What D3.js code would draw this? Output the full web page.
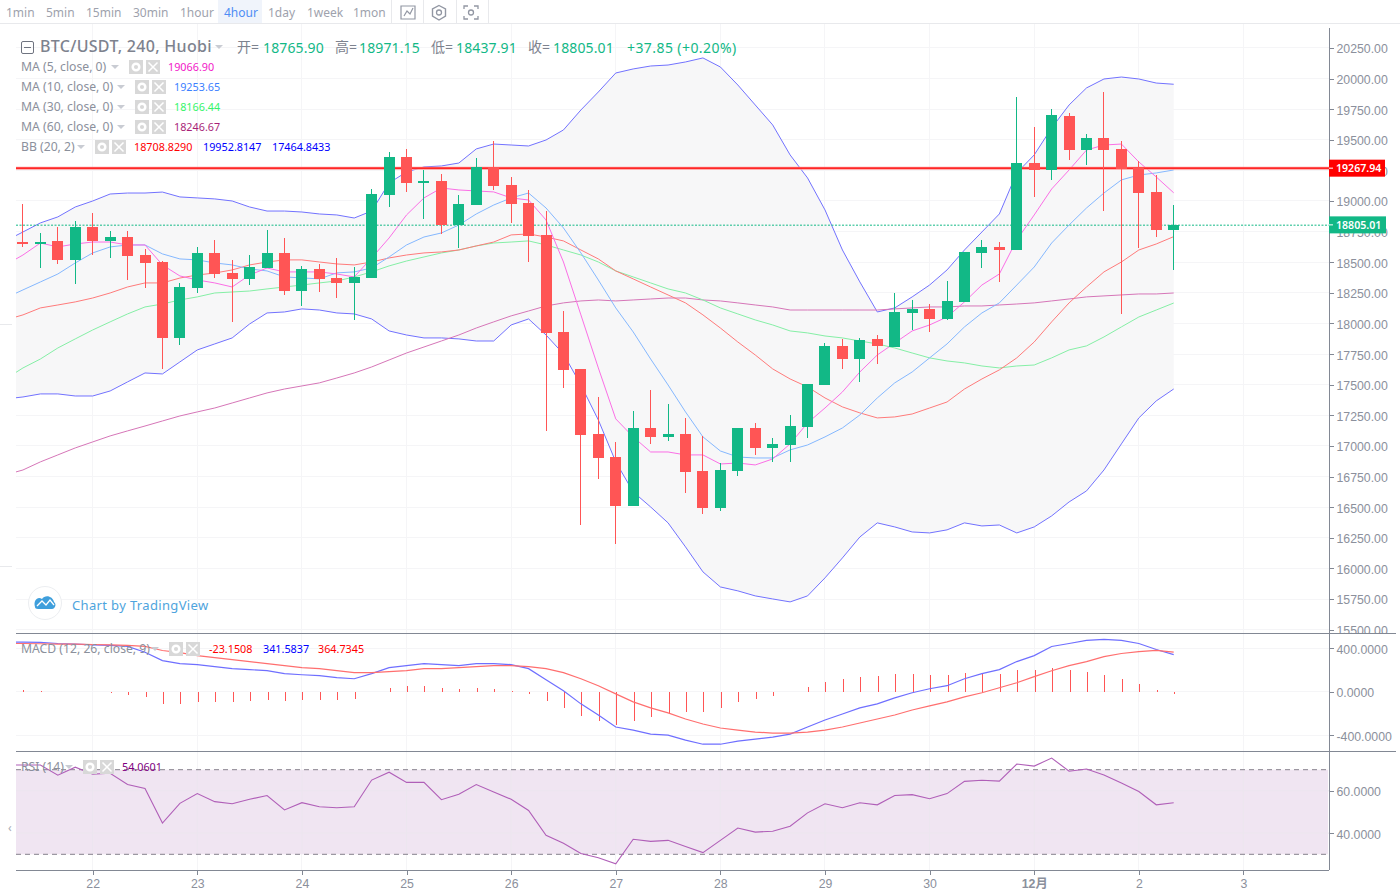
<!DOCTYPE html>
<html><head><meta charset="utf-8">
<style>
html,body{margin:0;padding:0;background:#fff;overflow:hidden}
svg{display:block}
text{font-family:"Noto Sans","Noto Sans CJK SC",sans-serif}
.ax text{font-family:"Liberation Sans",Arial,sans-serif;font-size:12.3px;fill:#8b909c}
.ax path,.ax line{stroke:#828894;shape-rendering:crispEdges}
</style>
<script src="https://cdn.jsdelivr.net/npm/d3@7/dist/d3.min.js"></script>
</head><body><svg id="c" width="1400" height="893"></svg>
<script>
// ---- candles, index 0 = 22nd 00:00, first candle is index -4 ----
const opens=[18665,18649,18674,18518,18788,18674,18706,18559,18502,17882,18290,18576,18412,18363,18453,18576,18265,18445,18371,18331,18371,19049,19359,19147,19163,18804,18967,19278,19131,18984,18722,17931,17629,17098,16910,16510,17147,17073,17098,16796,16494,16796,17147,16984,17008,17155,17498,17816,17710,17873,17808,18086,18118,18037,18176,18576,18625,18600,19310,19253,19694,19416,19514,19425,19269,19073,18765.90];
const highs=[18975,18739,18788,18837,18902,18755,18755,18608,18510,18331,18625,18682,18518,18559,18763,18698,18469,18486,18535,18461,19098,19400,19425,19253,19220,19049,19351,19490,19196,19090,18918,18102,17629,17400,17033,17286,17457,17343,17229,17082,16861,17147,17188,17065,17253,17506,17841,17873,17882,17906,18249,18192,18159,18347,18584,18682,18665,19849,19604,19751,19718,19547,19890,19490,19327,19212,18971.15];
const lows=[18625,18453,18486,18322,18559,18535,18355,18290,17629,17825,18249,18371,18012,18314,18453,18233,18143,18257,18208,18029,18371,18951,19073,18853,18730,18616,18967,19090,18820,18502,17123,17474,16355,16731,16200,16510,17016,17041,16616,16445,16469,16755,16927,16869,16869,17065,17498,17629,17523,17670,17808,17947,17931,18029,18176,18453,18339,18600,19033,19171,19335,19294,18918,18078,18616,18706,18437.91];
const closes=[18649,18665,18518,18788,18674,18706,18551,18494,17882,18298,18576,18404,18363,18461,18576,18265,18445,18363,18331,18380,19057,19359,19147,19163,18804,18975,19278,19122,18975,18714,17923,17620,17090,16902,16510,17147,17073,17098,16788,16494,16804,17147,16984,17016,17163,17506,17816,17710,17865,17816,18094,18118,18037,18184,18584,18625,18600,19310,19253,19702,19416,19514,19416,19261,19065,18763,18805.01];
// ---- overlays, first value is index -5 (cut off by the left edge) ----
const bbUpper=[18674,18747,18821,18870,18951,19000,19057,19065,19065,19073,19033,19025,19017,19000,18951,18918,18918,18910,18894,18886,18861,18918,19147,19237,19278,19286,19310,19425,19465,19457,19449,19498,19580,19743,19890,20045,20078,20102,20110,20135,20168,20094,19947,19784,19621,19376,19188,18927,18600,18339,18094,18127,18217,18314,18437,18600,18747,18894,19229,19376,19596,19784,19923,19996,20012,19996,19963,19953];
const bbLower=[17384,17400,17425,17425,17408,17408,17449,17523,17596,17588,17686,17784,17833,17882,17996,18086,18094,18119,18110,18086,18078,18037,17939,17906,17882,17882,17874,17857,17857,17988,18037,17906,17751,17498,17212,16870,16625,16502,16372,16176,15972,15849,15817,15776,15751,15727,15776,15923,16086,16257,16372,16339,16298,16290,16315,16372,16347,16355,16290,16339,16429,16543,16633,16804,17017,17229,17368,17465];
const bbMid=[18029,18070,18127,18151,18176,18208,18249,18298,18331,18331,18371,18396,18412,18437,18478,18502,18519,18519,18502,18486,18478,18502,18535,18559,18576,18584,18600,18633,18665,18723,18731,18706,18674,18600,18527,18429,18364,18298,18233,18168,18070,17963,17849,17743,17629,17547,17482,17392,17319,17270,17229,17237,17261,17310,17359,17465,17547,17621,17719,17849,18013,18168,18298,18421,18502,18600,18649,18709];
const ma5=[18478,18559,18657,18625,18649,18665,18665,18641,18641,18478,18388,18355,18331,18298,18396,18453,18421,18421,18421,18404,18380,18535,18698,18886,19025,19106,19090,19082,19074,19025,19008,18845,18502,18070,17637,17221,17074,16951,16951,16927,16927,16853,16861,16845,16894,17017,17188,17310,17441,17604,17743,17841,17939,17988,18053,18176,18314,18404,18682,18886,19098,19253,19416,19457,19465,19319,19196,19067];
const ma10=[18208,18274,18339,18404,18494,18576,18625,18641,18641,18568,18527,18519,18494,18478,18445,18429,18380,18372,18364,18413,18421,18453,18543,18641,18706,18739,18804,18894,18967,19025,19065,18943,18780,18576,18355,18127,17931,17710,17498,17278,17074,16959,16910,16902,16902,16968,17008,17074,17147,17253,17392,17515,17604,17719,17833,17972,18086,18168,18314,18461,18657,18804,18943,19065,19172,19212,19229,19253];
const ma30=[17547,17637,17710,17800,17874,17947,18013,18078,18135,18159,18192,18217,18249,18257,18265,18282,18298,18314,18331,18347,18380,18421,18470,18510,18543,18576,18600,18633,18657,18665,18674,18641,18600,18559,18502,18429,18380,18331,18282,18249,18192,18127,18078,18029,17988,17939,17923,17898,17882,17857,17833,17800,17759,17719,17694,17678,17653,17637,17653,17661,17719,17784,17817,17890,17972,18053,18110,18167];
const ma60=[16764,16804,16870,16927,16984,17033,17082,17123,17163,17204,17245,17278,17310,17351,17392,17433,17465,17490,17515,17555,17596,17645,17702,17759,17808,17857,17906,17963,18013,18062,18102,18143,18168,18184,18192,18184,18192,18200,18208,18208,18192,18184,18168,18151,18135,18110,18110,18110,18110,18110,18110,18119,18127,18135,18135,18143,18143,18151,18159,18168,18184,18200,18217,18225,18233,18241,18241,18249];
// ---- MACD pane ----
const macdHist=[19,9,0,0,-5,-14,-32,-51,-111,-111,-93,-93,-93,-83,-74,-83,-74,-74,-74,-65,-5,32,51,51,32,23,32,23,5,-23,-88,-153,-218,-264,-301,-264,-236,-208,-190,-190,-153,-97,-69,-42,0,42,88,116,134,144,162,162,153,153,171,171,162,199,199,218,199,181,153,116,69,14,-23];
const macdLine=[458,456,454,444,438,432,426,417,364,287,259,250,231,213,204,194,167,157,148,130,120,167,222,241,259,250,241,259,259,250,213,111,9,-111,-213,-324,-352,-389,-398,-444,-482,-482,-454,-435,-417,-389,-324,-259,-204,-148,-111,-56,-9,28,56,120,167,204,278,333,417,444,472,482,472,444,389,342];
const macdSignal=[444,444,442,439,438,435,432,426,417,380,361,333,315,296,278,259,241,222,213,194,176,176,185,194,213,213,222,231,241,241,231,213,176,120,56,-19,-93,-148,-194,-250,-296,-333,-352,-370,-380,-380,-370,-352,-324,-287,-250,-213,-167,-130,-93,-46,-9,37,83,139,194,241,278,324,352,370,380,365];
// ---- RSI pane ----
const rsiLine=[72.2,72.2,72.2,67.4,71.2,67.9,68.3,63,61.1,44.8,54.1,58.7,54.9,53.9,56,57.8,51,54.4,52.5,52,52.5,65.1,68.8,64,64,55.8,58.4,63,59.5,56,50.7,39,35.2,30.4,28.4,25.5,37.1,36.1,36.6,33.7,30.8,36.6,42.4,40.5,40.9,43.3,49.6,53.9,52,54.4,53.4,57.8,58.2,56.3,58.7,64.5,65,64.6,72.7,71.7,75.5,69.3,70.3,67.5,63.7,59.7,53.4,54.4];
// ---- axes and labels ----
const priceTicks=[20250,20000,19750,19500,19250,19000,18750,18500,18250,18000,17750,17500,17250,17000,16750,16500,16250,16000,15750,15500];
const macdTicks=[400,0,-400];
const rsiTicks=[60,40];
const rsiBands=[70,30];
const dayIdx=[0,6,12,18,24,30,36,42,48,54,60,66];
const dayLabels=["22","23","24","25","26","27","28","29","30","12月","2","3"];
const lastPrice=18805.01, alertPrice=19267.94;
const toolbarLabels=["1min","5min","15min","30min","1hour","4hour","1day","1week","1mon"];

const UP="#12b886",DOWN="#ff5555",GRID="#f5f5f7",AX="#828894",TXT="#8b909c";
const svg=d3.select("#c");
const L=16,R=1329;
const x=d3.scaleLinear().domain([0,62]).range([92.7,1173.7]);
const y=d3.scaleLinear().domain([20000,15500]).range([78.5,629.7]);
const ym=d3.scaleLinear().domain([400,-400]).range([648.3,735.3]);
const yr=d3.scaleLinear().domain([70,30]).range([769.7,854.3]);
const ic=i=>i-4, il=i=>i-5;

const defs=svg.append("defs");
const clip=(id,a,b,c,d)=>defs.append("clipPath").attr("id",id).append("rect").attr("x",a).attr("y",b).attr("width",c).attr("height",d);
clip("cm",L,24,R-L,609);clip("cd",L,634,R-L,117);clip("cr",L,752,R-L,118);clip("cl",R-1,24,71,609);

// toolbar
const tb=svg.append("g");
tb.append("rect").attr("x",218).attr("y",0).attr("width",44).attr("height",23).attr("fill","#f0f4fb");
tb.append("line").attr("x1",0).attr("x2",1400).attr("y1",23.5).attr("y2",23.5).attr("stroke","#e8e9ec");
[6,46,86,133,180,224,268,307,353].forEach((px,k)=>tb.append("text").attr("x",px).attr("y",17).attr("font-size",12).attr("fill",k==5?"#4f8df5":"#9ea2ad").text(toolbarLabels[k]));
[391,423,456,488].forEach(px=>tb.append("line").attr("x1",px+.5).attr("x2",px+.5).attr("y1",0).attr("y2",23).attr("stroke","#e8e9ec"));
tb.append("path").attr("d","M401 6H415V19H401Z M404 16L407 11L410 14L413 8").attr("fill","none").attr("stroke","#9297a3").attr("stroke-width",1.2);
tb.append("path").attr("d","M439 5.5L445.500 9V16L439 20L432.500 16V9Z").attr("fill","none").attr("stroke","#9297a3").attr("stroke-width",1.4);
tb.append("circle").attr("cx",439).attr("cy",12.500).attr("r",2.500).attr("fill","none").attr("stroke","#9297a3").attr("stroke-width",1.3);
tb.append("path").attr("d","M464 9V6H468M474 6H478V9M478 16V19H474M468 19H464V16").attr("fill","none").attr("stroke","#9297a3").attr("stroke-width",1.3);
tb.append("circle").attr("cx",471).attr("cy",12.500).attr("r",2.500).attr("fill","none").attr("stroke","#9297a3").attr("stroke-width",1.3);

// grids
const grid=svg.append("g").attr("stroke",GRID).attr("shape-rendering","crispEdges");
grid.selectAll(".v").data(dayIdx).join("line").attr("x1",d=>x(d)).attr("x2",d=>x(d)).attr("y1",24).attr("y2",870);
grid.selectAll(".h").data(priceTicks).join("line").attr("x1",L).attr("x2",R).attr("y1",d=>y(d)).attr("y2",d=>y(d));
grid.selectAll(".m").data(macdTicks).join("line").attr("x1",L).attr("x2",R).attr("y1",d=>ym(d)).attr("y2",d=>ym(d));

// main pane
const main=svg.append("g").attr("clip-path","url(#cm)");
main.append("path").attr("fill","#f7f7f8").attr("fill-opacity",.95).attr("d",d3.area().x((d,i)=>x(il(i))).y0((d,i)=>y(bbLower[i])).y1(d=>y(d))(bbUpper));
const lineP=d3.line().x((d,i)=>x(il(i))).y(d=>y(d));
[[bbUpper,"#7272ff"],[bbLower,"#7272ff"],[ma60,"#d676b8"],[ma30,"#85efa6"],[bbMid,"#ff7b7b"],[ma10,"#85b8ff"],[ma5,"#fb6fe6"]].forEach(([a,c])=>main.append("path").attr("fill","none").attr("stroke",c).attr("stroke-width",1).attr("d",lineP(a)));
main.append("line").attr("x1",L).attr("x2",R).attr("y1",y(alertPrice)).attr("y2",y(alertPrice)).attr("stroke","#ff9a9a").attr("stroke-width",3);
main.append("line").attr("x1",L).attr("x2",R).attr("y1",y(alertPrice)).attr("y2",y(alertPrice)).attr("stroke","#ff0000").attr("stroke-width",1.4);
main.append("line").attr("x1",L).attr("x2",R).attr("y1",y(lastPrice)+.3).attr("y2",y(lastPrice)+.3).attr("stroke",UP).attr("stroke-dasharray","2 1.5");
const idx=d3.range(opens.length);
const col=i=>closes[i]>=opens[i]?UP:DOWN;
const px0=i=>Math.floor(x(ic(i)));
main.selectAll(".w").data(idx).join("rect").attr("shape-rendering","crispEdges").attr("x",px0).attr("width",1).attr("y",i=>y(highs[i])).attr("height",i=>y(lows[i])-y(highs[i])).attr("fill",col);
main.selectAll(".b").data(idx).join("rect").attr("shape-rendering","crispEdges").attr("x",i=>px0(i)-5).attr("width",11).attr("y",i=>Math.round(y(Math.max(opens[i],closes[i])))).attr("height",i=>Math.max(2,Math.round(Math.abs(y(opens[i])-y(closes[i]))))).attr("fill",col);

// MACD pane
const md=svg.append("g").attr("clip-path","url(#cd)");
md.selectAll(".h").data(macdHist).join("rect").attr("shape-rendering","crispEdges").attr("x",(d,i)=>px0(i)+1).attr("width",1).attr("y",d=>Math.min(ym(d),ym(0))).attr("height",d=>Math.abs(ym(d)-ym(0))).attr("fill",DOWN);
const lineM=d3.line().x((d,i)=>x(il(i))).y(d=>ym(d));
md.append("path").attr("fill","none").attr("stroke","#6f6fff").attr("stroke-width",1.2).attr("d",lineM(macdLine));
md.append("path").attr("fill","none").attr("stroke","#ff6f6f").attr("stroke-width",1.2).attr("d",lineM(macdSignal));

// RSI pane
const rs=svg.append("g").attr("clip-path","url(#cr)");
rs.append("rect").attr("x",L).attr("y",yr(rsiBands[0])).attr("width",R-L-1).attr("height",yr(rsiBands[1])-yr(rsiBands[0])).attr("fill","#f0e5f2");
rs.selectAll(".g").data(rsiTicks).join("line").attr("x1",L).attr("x2",R).attr("y1",d=>yr(d)).attr("y2",d=>yr(d)).attr("stroke","#ece6ef");
rs.selectAll(".v").data(dayIdx).join("line").attr("x1",d=>x(d)).attr("x2",d=>x(d)).attr("y1",770).attr("y2",854).attr("stroke","#ece6ef");
rs.selectAll(".d").data(rsiBands).join("line").attr("x1",L).attr("x2",R).attr("y1",d=>yr(d)).attr("y2",d=>yr(d)).attr("stroke","#85808c").attr("stroke-dasharray","5 4");
rs.append("path").attr("fill","none").attr("stroke","#b05fb8").attr("stroke-width",1.1).attr("d",d3.line().x((d,i)=>x(il(i))).y(d=>yr(d))(rsiLine));

// pane borders
const fr=svg.append("g").attr("stroke",AX).attr("shape-rendering","crispEdges");
[633.5,751.5,870.5].forEach(v=>fr.append("line").attr("x1",L).attr("x2",1396).attr("y1",v).attr("y2",v));
fr.select("line:last-child").attr("x2",R);
fr.append("line").attr("x1",R+.5).attr("x2",R+.5).attr("y1",28).attr("y2",870);

// axes
const nudge=g=>{g.select(".domain").remove();g.selectAll("text").attr("dy","0.4em");};
const a1c=svg.append("g").attr("clip-path","url(#cl)");
a1c.append("g").attr("class","ax").attr("transform",`translate(${R+.5},0)`).call(d3.axisRight(y).tickValues(priceTicks).tickFormat(d3.format(".2f")).tickSize(4).tickPadding(3)).call(nudge);
svg.append("g").attr("class","ax").attr("transform",`translate(${R+.5},0)`).call(d3.axisRight(ym).tickValues(macdTicks).tickFormat(d=>d3.format(".4f")(d).replace("−","-")).tickSize(4).tickPadding(3)).call(nudge);
svg.append("g").attr("class","ax").attr("transform",`translate(${R+.5},0)`).call(d3.axisRight(yr).tickValues(rsiTicks).tickFormat(d3.format(".4f")).tickSize(4).tickPadding(3)).call(nudge);
const xa=svg.append("g").attr("class","ax").attr("transform","translate(0,870.5)").call(d3.axisBottom(x).tickValues(dayIdx).tickFormat((d,i)=>dayLabels[i]).tickSize(4).tickPadding(5)).call(g=>g.select(".domain").remove());
xa.selectAll("text").attr("font-weight",(d,i)=>dayLabels[i]=="12月"?"bold":null).style("font-family",'"Liberation Sans","Noto Sans CJK SC",sans-serif');

// price flags
[[alertPrice,"#ff0000",56],[lastPrice,UP,57]].forEach(([p,c,w])=>{
 const py=y(p),g=svg.append("g");
 g.append("rect").attr("x",R).attr("y",py-8.5).attr("width",w).attr("height",17).attr("fill",c);
 g.append("line").attr("x1",R).attr("x2",R+4).attr("y1",py).attr("y2",py).attr("stroke","#fff");
 g.append("text").attr("x",R+7).attr("y",py+4).attr("font-size",10.6).attr("font-weight",600).attr("fill","#fff").text(d3.format(".2f")(p));
});

// left stubs
svg.append("path").attr("d","M0 324.500H12M0 566.500H12").attr("stroke","#e8e9ec");
svg.append("text").attr("x",8).attr("y",832).attr("font-size",12).attr("fill","#a8acb5").text("‹");

// legends
const T=(xp,yp,s,c,fs=12,w)=>svg.append("text").attr("x",xp).attr("y",yp).attr("font-size",fs).attr("fill",c).attr("font-weight",w||null).text(s);
const tri=(xp,yp)=>svg.append("path").attr("d",`M${xp} ${yp-2}h8l-4 4z`).attr("fill","#c9ccd3");
const icons=(a,b,yp)=>{[a,b].forEach((px,k)=>{
  svg.append("rect").attr("x",px).attr("y",yp-7).attr("width",14).attr("height",14).attr("fill","#d8d8d8");
  if(k==0){svg.append("circle").attr("cx",px+7).attr("cy",yp).attr("r",3.300).attr("fill","none").attr("stroke","#fff").attr("stroke-width",2.500);}
  else{svg.append("path").attr("d",`M${px+2.500} ${yp-4.500}l9 9m0 -9l-9 9`).attr("stroke","#fff").attr("stroke-width",1.5);}
});};
const G="#8b909c";
svg.append("rect").attr("x",21.500).attr("y",41.500).attr("width",12).attr("height",12).attr("rx",1.500).attr("fill","none").attr("stroke","#6f7480");
svg.append("line").attr("x1",24).attr("x2",31).attr("y1",47.500).attr("y2",47.500).attr("stroke","#6f7480");
T(40,52,"BTC/USDT, 240, Huobi","#7d828e",16,500).attr("letter-spacing",.3);
tri(215,47);
[[237,"开="],[335,"高="],[431,"低="],[528,"收="]].forEach(([px,s])=>T(px,52,s,"#7d828e",14));
[[263,"18765.90"],[359,"18971.15"],[456,"18437.91"],[553,"18805.01"]].forEach(([px,s])=>T(px,53,s,"#12b886",14).attr("letter-spacing",.12));
T(627,53,"+37.85 (+0.20%)","#12b886",14).attr("letter-spacing",.42);
[[67,"MA (5, close, 0)",111,129,146,168,"19066.90","#f218c8"],[87,"MA (10, close, 0)",117,135,152,174,"19253.65","#3b80ff"],[107,"MA (30, close, 0)",117,135,152,174,"18166.44","#35f56a"],[127,"MA (60, close, 0)",117,135,152,174,"18246.67","#a81f78"]].forEach(r=>{
 T(21,r[0]+4,r[1],G,12.2);tri(r[2],r[0]);icons(r[3],r[4],r[0]);T(r[5],r[0]+4,r[6],r[7],10.8);
});
T(21,151,"BB (20, 2)",G,12.2);tri(77,147);icons(95,112,147);
T(134,151,"18708.8290","#ff0000",10.8);T(203,151,"19952.8147","#0000ff",10.8);T(272,151,"17464.8433","#0000ff",10.8);
T(21,653,"MACD (12, 26, close, 9)",G,12.2);tri(151,649);icons(169,186,649);
T(209,653,"-23.1508","#ff0000",10.8);T(263,653,"341.5837","#0000ff",10.8);T(318,653,"364.7345","#ff0000",10.8);
T(21,771,"RSI (14)",G,12.2);tri(65,767);icons(83,100,767);T(122,771,"54.0601","#800080",10.8);

// watermark
svg.append("circle").attr("cx",45).attr("cy",603).attr("r",16.500).attr("fill","#fff").attr("stroke","#eceef1");
svg.append("path").attr("d","M35 607C33 600 38 596 42 599C45 594 53 596 54 602C57 604 55 609 52 609H38C36 609 35 608 35 607Z").attr("fill","#3f9fdc");
svg.append("path").attr("d","M37 606L42 601L46 605L50 600L54 605").attr("fill","none").attr("stroke","#fff").attr("stroke-width",1.300);
T(72,610,"Chart by TradingView","#4ea4dd",13).attr("letter-spacing",.35);
</script></body></html>
